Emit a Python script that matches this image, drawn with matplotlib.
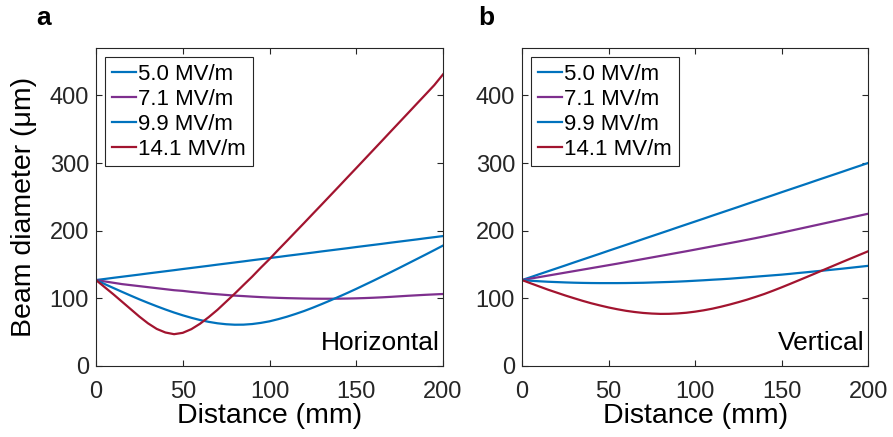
import matplotlib
matplotlib.use("Agg")
import matplotlib.pyplot as plt

plt.rcParams['font.family'] = ['Liberation Sans', 'DejaVu Sans']

# Distance (mm)
dist = list(range(0, 205, 5))

labels = ['5.0 MV/m', '7.1 MV/m', '9.9 MV/m', '14.1 MV/m']
colors = ['#0072BD', '#7E2F8E', '#0072BD', '#A2142F']

# Panel a: horizontal beam diameter (um)
h_50 = [127, 128.6, 130.3, 131.9, 133.5, 135.1, 136.8, 138.4, 140, 141.6, 143.3,
        144.9, 146.5, 148.1, 149.8, 151.4, 153, 154.6, 156.3, 157.9, 159.5,
        161.1, 162.8, 164.4, 166, 167.6, 169.3, 170.9, 172.5, 174.1, 175.8,
        177.4, 179, 180.6, 182.3, 183.9, 185.5, 187.1, 188.8, 190.4, 192]
h_71 = [127, 125, 123, 121, 119.5, 118, 116.5, 115, 113.5, 112, 111,
        109.5, 108.3, 107, 106, 105, 104, 103.3, 102.5, 101.8, 101.2,
        100.7, 100.3, 100, 99.7, 99.5, 99.4, 99.4, 99.5, 99.7, 100,
        100.4, 100.9, 101.5, 102.2, 103, 103.8, 104.5, 105.2, 105.8, 106.4]
h_99 = [127, 121.1, 115.3, 109.6, 104, 98.5, 93.3, 88.3, 83.5, 79, 74.9,
        71.2, 67.9, 65.2, 63.1, 61.7, 61, 61.1, 62, 63.7, 66,
        69.2, 72.8, 76.9, 81.3, 86.2, 91.4, 96.8, 102.4, 108.1, 114,
        120.1, 126.2, 132.5, 138.8, 145.2, 151.7, 158.2, 164.7, 171.3, 178]
h_141 = [127, 116.5, 106, 95, 84, 73, 63, 54.8, 49.5, 47, 49,
         54.5, 62.5, 72.3, 83, 95, 107, 119.6, 132, 145.3, 158,
         171.6, 184.8, 198.2, 211.5, 225, 238.4, 251.9, 265.4, 279, 292.5,
         306.1, 319.7, 333.3, 347, 360.6, 374.2, 387.9, 401.5, 415.2, 431]

# Panel b: vertical beam diameter (um)
v_50 = [127, 131.3, 135.7, 140, 144.3, 148.6, 153, 157.3, 161.6, 165.9, 170.3,
        174.6, 178.9, 183.2, 187.6, 191.9, 196.2, 200.5, 204.9, 209.2, 213.5,
        217.8, 222.2, 226.5, 230.8, 235.1, 239.5, 243.8, 248.1, 252.4, 256.8,
        261.1, 265.4, 269.7, 274.1, 278.4, 282.7, 287, 291.4, 295.7, 300]
v_71 = [127, 129.2, 131.4, 133.6, 135.8, 138, 140.2, 142.4, 144.6, 146.8, 149,
        151.2, 153.5, 155.8, 158.1, 160.4, 162.7, 165, 167.3, 169.6, 172,
        174.4, 176.8, 179.2, 181.6, 184, 186.5, 189, 191.6, 194.3, 197,
        199.8, 202.6, 205.4, 208.2, 211, 213.8, 216.6, 219.4, 222.2, 225]
v_99 = [127, 126, 125.2, 124.5, 124, 123.5, 123.1, 122.8, 122.6, 122.5, 122.5,
        122.5, 122.6, 122.8, 123, 123.4, 123.8, 124.2, 124.7, 125.3, 126,
        126.7, 127.5, 128.2, 129, 130, 131, 132, 133, 134, 135,
        136.2, 137.5, 138.7, 140, 141.2, 142.5, 143.8, 145.2, 146.6, 148]
v_141 = [127, 122.2, 117.5, 112.8, 108.5, 104.2, 100.2, 96.3, 92.7, 89.5, 86.5,
         83.9, 81.6, 79.8, 78.4, 77.5, 77, 77.1, 77.7, 78.7, 80.3,
         82.3, 84.7, 87.6, 90.8, 94.3, 98, 102.1, 106.4, 111.2, 116.2,
         121.4, 126.7, 132, 137.4, 142.8, 148.2, 153.6, 158.9, 164.2, 169.5]

panels = [
    ('a', 0.041, 'Horizontal', [h_50, h_71, h_99, h_141]),
    ('b', 0.536, 'Vertical', [v_50, v_71, v_99, v_141]),
]

fig = plt.figure(figsize=(8.93, 4.37), dpi=100)
axes = [fig.add_axes([0.1075, 0.1625, 0.3886, 0.7277]),
        fig.add_axes([0.5846, 0.1625, 0.3875, 0.7277])]

dark = '#262626'
for ax, (tag, tag_x, name, series) in zip(axes, panels):
    for y, lab, c in zip(series, labels, colors):
        ax.plot(dist, y, color=c, lw=1.6, label=lab)
    ax.set_xlim(0, 200)
    ax.set_ylim(0, 470)
    ax.set_xticks([0, 50, 100, 150, 200])
    ax.set_yticks([0, 100, 200, 300, 400])
    ax.tick_params(direction='in', top=True, right=True, length=4,
                   width=0.8, labelsize=17, colors=dark)
    ax.tick_params(axis='x', pad=10.5)
    ax.tick_params(axis='y', pad=5)
    for s in ax.spines.values():
        s.set_color(dark)
        s.set_linewidth(0.8)
    ax.set_xlabel('Distance (mm)', fontsize=20.5, color='black', labelpad=0)
    leg = ax.legend(loc='upper left', fontsize=16, handlelength=1.1,
                    handletextpad=0.1, labelspacing=0.18, borderpad=0.3,
                    borderaxespad=0.4, fancybox=False, framealpha=1)
    leg.get_frame().set_edgecolor(dark)
    leg.get_frame().set_linewidth(0.8)
    ax.text(0.991, 0.05, name, transform=ax.transAxes, ha='right',
            va='baseline', fontsize=19)
    fig.text(tag_x, 0.959, tag, fontsize=19, fontweight='bold',
             ha='left', va='center')

axes[0].set_ylabel('Beam diameter (μm)', fontsize=20.5, labelpad=9)

fig.savefig('out.png', dpi=100)
